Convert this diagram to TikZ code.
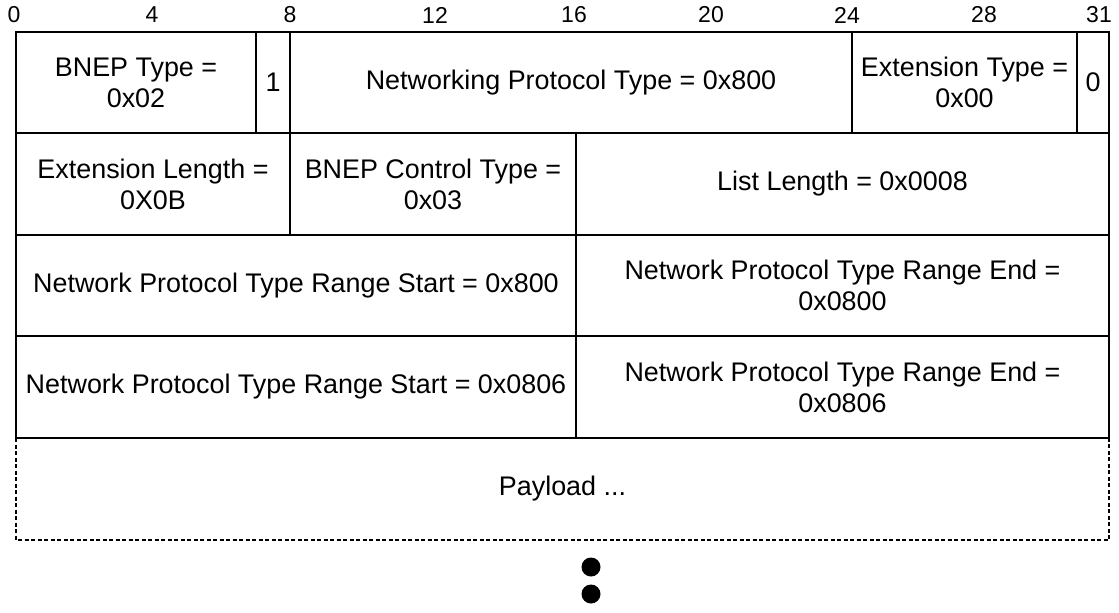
\documentclass[tikz,border=0pt]{standalone}
\usepackage{fontspec}
\setmainfont{Liberation Sans}
\begin{document}
\begin{tikzpicture}[x=1pt,y=-1pt,
  cell/.style={draw, line width=2.4pt, inner sep=0pt, outer sep=0pt, anchor=north west, align=center,
    font=\fontsize{26.9}{31}\selectfont},
  ruler/.style={inner sep=0pt, font=\fontsize{23}{26}\selectfont},
  dotmark/.style={circle, fill=black, inner sep=0pt, minimum size=19pt},
  payborder/.style={line width=2.2pt, dash pattern=on 4pt off 2.5pt}]
\useasboundingbox (0,0) rectangle (1119,613);
% ruler
\node[ruler] (r0)  at (14,15)   {0};
\node[ruler] (r4)  at (152,15)  {4};
\node[ruler] (r8)  at (290,15)  {8};
\node[ruler] (r12) at (435,15)  {12};
\node[ruler] (r16) at (574,15)  {16};
\node[ruler] (r20) at (711,15)  {20};
\node[ruler] (r24) at (847,15)  {24};
\node[ruler] (r28) at (984,15)  {28};
\node[ruler] (r31) at (1099,15) {31};
% row 1
\node[cell, minimum width=240pt, minimum height=101pt] (bt) at (16,32) {BNEP Type =\\0x02};
\node[cell, minimum width=34pt, minimum height=101pt] (e1) at (256,32) {1};
\node[cell, minimum width=562pt, minimum height=101pt] (npt) at (290,32) {Networking Protocol Type = 0x800};
\node[cell, minimum width=225pt, minimum height=101pt] (et) at (852,32) {Extension Type =\\0x00};
\node[cell, minimum width=32pt, minimum height=101pt] (e0) at (1077,32) {0};
% row 2
\node[cell, minimum width=274pt, minimum height=102pt] (el) at (16,133) {Extension Length =\\0X0B};
\node[cell, minimum width=286pt, minimum height=102pt] (bct) at (290,133) {BNEP Control Type =\\0x03};
\node[cell, minimum width=533pt, minimum height=102pt] (ll) at (576,133) {List Length = 0x0008};
% row 3
\node[cell, minimum width=560pt, minimum height=101pt] (rs1) at (16,235) {Network Protocol Type Range Start = 0x800};
\node[cell, minimum width=533pt, minimum height=101pt] (re1) at (576,235) {Network Protocol Type Range End =\\0x0800};
% row 4
\node[cell, minimum width=560pt, minimum height=102pt] (rs2) at (16,336) {Network Protocol Type Range Start = 0x0806};
\node[cell, minimum width=533pt, minimum height=102pt] (re2) at (576,336) {Network Protocol Type Range End =\\0x0806};
% payload
\node[cell, draw=none, minimum width=1093pt, minimum height=102pt] (pl) at (16,438) {Payload ...};
\draw[payborder] (pl.north west) -- (pl.south west) -- (pl.south east) -- (pl.north east);
% continuation dots
\node[dotmark] (d1) at (591,567) {};
\node[dotmark] (d2) at (591,594) {};
\end{tikzpicture}
\end{document}
